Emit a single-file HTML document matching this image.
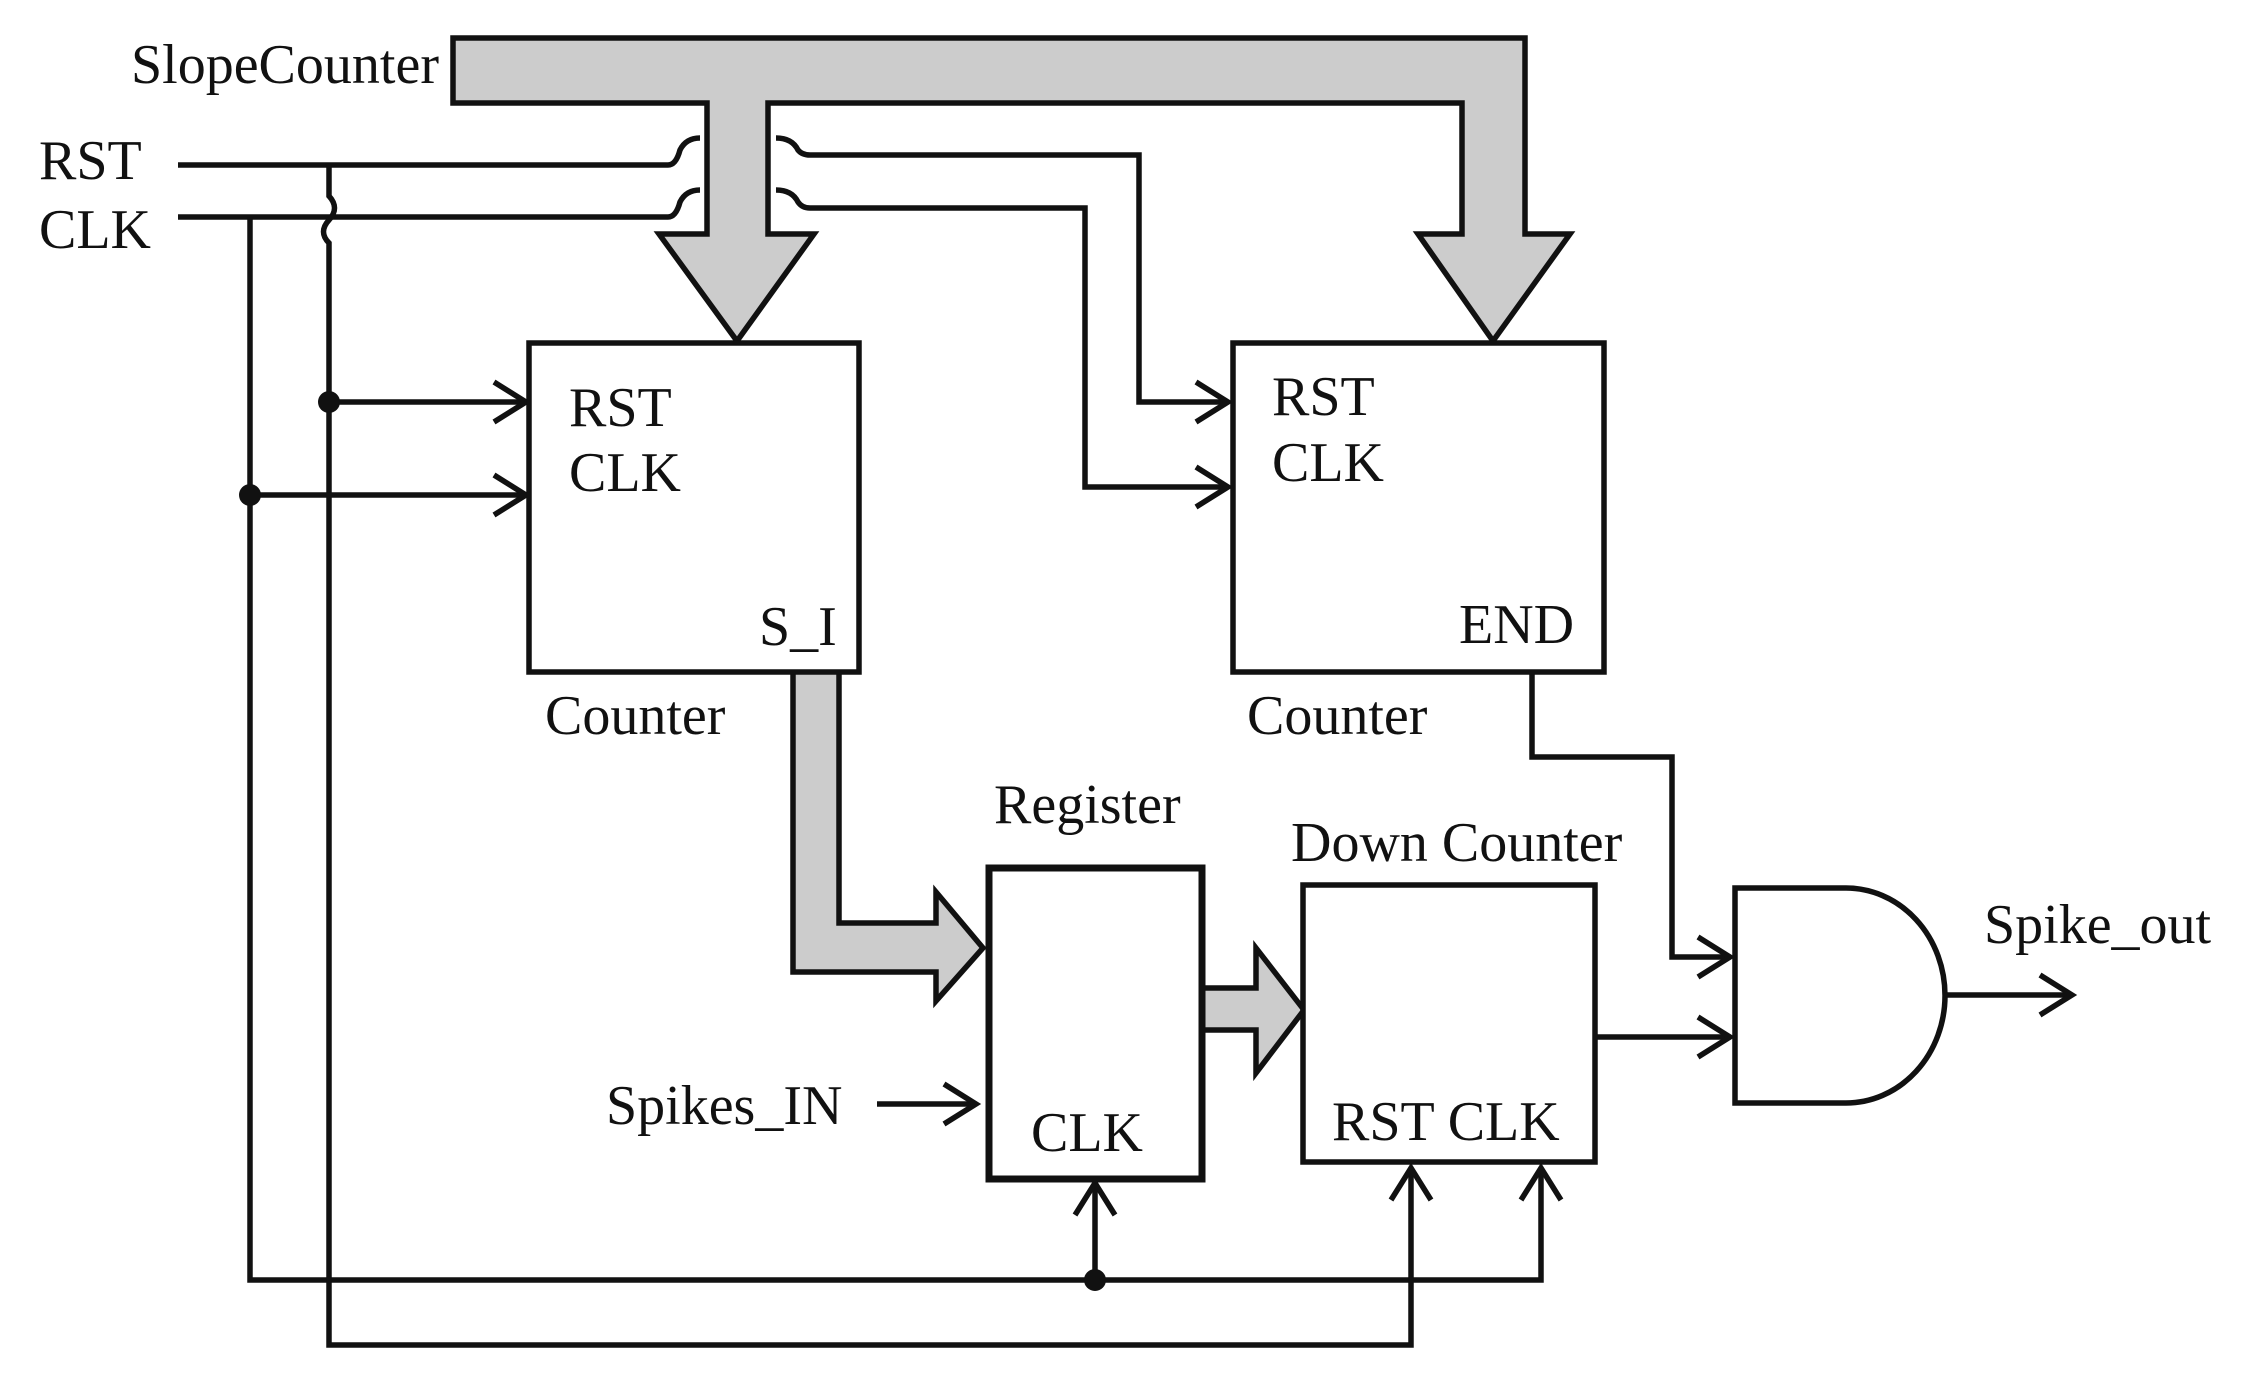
<!DOCTYPE html>
<html><head><meta charset="utf-8"><style>
html,body{margin:0;padding:0;background:#fff;}
svg{display:block;}
text{font-family:"Liberation Serif",serif;font-size:56px;fill:#111;}
</style></head><body>
<svg width="2251" height="1381" viewBox="0 0 2251 1381" xmlns="http://www.w3.org/2000/svg">
<g fill="none" stroke="#111" stroke-width="5.5" stroke-linejoin="miter">
<path d="M178 165 H668 Q676 165 680 150 Q686 138 700 138"/>
<path d="M776 138 Q792 138 798 150 Q802 155 810 155 H1139 V402 H1228"/>
<path d="M178 217 H668 Q676 217 680 202 Q686 190 700 190"/>
<path d="M776 190 Q792 190 798 202 Q802 208 810 208 H1085 V487 H1228"/>
<path d="M250 217 V1280 H1541 V1168"/>
<path d="M329 165 V196 Q340 208 329 220 Q318 232 329 243 V1345 H1411 V1168"/>
<path d="M329 402 H526"/>
<path d="M250 495 H526"/>
<path d="M1095 1280 V1183"/>
<path d="M877 1104 H976"/>
<path d="M1532 672 V757 H1672 V957 H1730"/>
<path d="M1595 1037 H1730"/>
<path d="M1945 995 H2072"/>
<path d="M494 382 L526 402 L494 422"/>
<path d="M494 475 L526 495 L494 515"/>
<path d="M1196 382 L1228 402 L1196 422"/>
<path d="M1196 467 L1228 487 L1196 507"/>
<path d="M944 1084 L976 1104 L944 1124"/>
<path d="M1698 937 L1730 957 L1698 977"/>
<path d="M1698 1017 L1730 1037 L1698 1057"/>
<path d="M2040 975 L2072 995 L2040 1015"/>
<path d="M1075 1215 L1095 1183 L1115 1215"/>
<path d="M1391 1200 L1411 1168 L1431 1200"/>
<path d="M1521 1200 L1541 1168 L1561 1200"/>
</g>
<g fill="#111">
<circle cx="329" cy="402" r="11"/>
<circle cx="250" cy="495" r="11"/>
<circle cx="1095" cy="1280" r="11"/>
</g>
<g fill="#cccccc" stroke="#111" stroke-width="5.5" stroke-linejoin="miter">
<path d="M453 38 H1525 V234 H1570 L1493 341 L1418 234 H1462 V103 H768 V234 H814 L737 341 L659 234 H707 V103 H453 Z"/>
<path d="M793 672 V972 H936 V1001 L983 948 L936 892 V923 H839 V672"/>
<path d="M1202 988 H1256 V948 L1304 1010 L1256 1073 V1030 H1202"/>
</g>
<g fill="#fff" stroke="#111">
<rect x="529" y="343" width="330" height="329" stroke-width="5.5"/>
<rect x="1233" y="343" width="371" height="329" stroke-width="5.5"/>
<rect x="989" y="868" width="213" height="311" stroke-width="7"/>
<rect x="1303" y="885" width="292" height="277" stroke-width="5.5"/>
<path d="M1735 888 H1846 A99 107.5 0 0 1 1846 1103 H1735 Z" stroke-width="5.5"/>
</g>
<text x="131" y="83">SlopeCounter</text>
<text x="39" y="179">RST</text>
<text x="39" y="248">CLK</text>
<text x="569" y="426">RST</text>
<text x="569" y="491">CLK</text>
<text x="759" y="645">S_I</text>
<text x="1272" y="415">RST</text>
<text x="1272" y="481">CLK</text>
<text x="1459" y="643">END</text>
<text x="545" y="734">Counter</text>
<text x="1247" y="734">Counter</text>
<text x="994" y="823">Register</text>
<text x="1291" y="861">Down Counter</text>
<text x="1031" y="1151">CLK</text>
<text x="1332" y="1140">RST CLK</text>
<text x="606" y="1124">Spikes_IN</text>
<text x="1984" y="943">Spike_out</text>
</svg>
</body></html>
